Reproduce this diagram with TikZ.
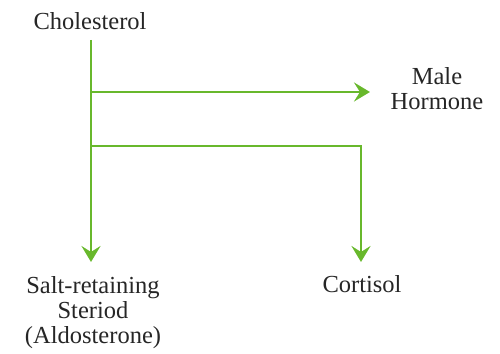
\documentclass[tikz,border=0pt]{standalone}
\usepackage{fontspec}
\setmainfont{Liberation Serif}
\usetikzlibrary{arrows.meta}
\definecolor{leaf}{RGB}{104,184,44}
\tikzset{
  lbl/.style={align=center, font=\fontsize{24.5}{25}\selectfont, text=black!85},
  flow/.style={draw=leaf, line width=2.5pt, -{Stealth[length=16pt,width=19pt,inset=6pt]}}
}
\begin{document}
\begin{tikzpicture}[x=1pt,y=-1pt]
\useasboundingbox (0,0) rectangle (500,353);
\node[lbl] (chol) at (90,21) {Cholesterol};
\node[lbl] (male) at (437,89) {Male\\Hormone};
\node[lbl] (ald) at (93,313) {Salt-retaining\\Steriod\\(Aldosterone)};
\node[lbl] (cort) at (362,284) {Cortisol};
\coordinate (top) at (91,40);
\coordinate (b1) at (91,92);
\coordinate (b2) at (91,146);
\coordinate (aldtip) at (91,262);
\coordinate (maletip) at (370,92);
\coordinate (cortip) at (361,262);
\draw[flow] (top) -- (aldtip);
\draw[flow] (b1) -- (maletip);
\draw[flow] (b2) -- (b2 -| cortip) -- (cortip);
\end{tikzpicture}
\end{document}
